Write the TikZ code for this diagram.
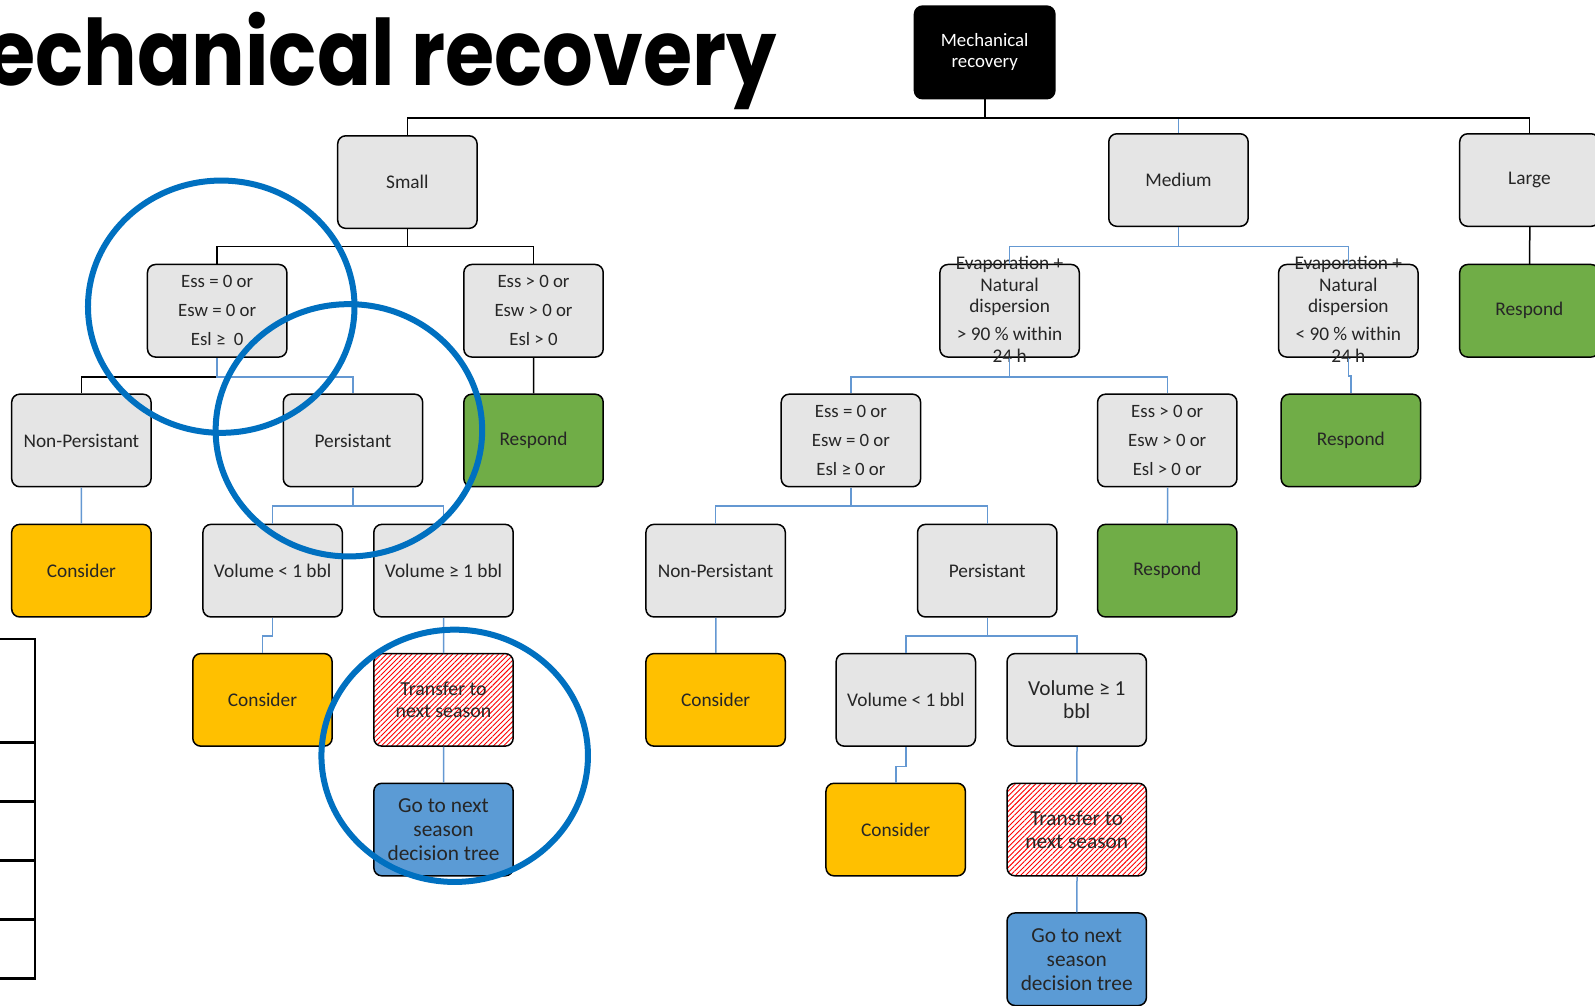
\documentclass[tikz,border=0pt]{standalone}
\usepackage{fontspec}
\setmainfont{Carlito}
\newfontfamily\titlefont{Poppins}[FakeStretch=0.87]
\usetikzlibrary{patterns.meta}
\definecolor{boxgrey}{RGB}{229,229,229}
\definecolor{respgreen}{RGB}{112,173,71}
\definecolor{consyellow}{RGB}{255,192,0}
\definecolor{nextblue}{RGB}{91,155,213}
\definecolor{linkblue}{RGB}{100,152,210}
\definecolor{ringblue}{RGB}{0,112,192}
\definecolor{ink}{RGB}{38,38,38}
\tikzset{
  box/.style={draw=black, line width=1.5pt, rounded corners=8pt,
    minimum width=137pt, minimum height=91pt, inner sep=1pt,
    align=center, text=ink, font=\fontsize{19}{22}\selectfont},
  greybox/.style={box, fill=boxgrey},
  cond/.style={greybox, font=\fontsize{18.5}{28.5}\selectfont},
  respond/.style={box, fill=respgreen},
  consider/.style={box, fill=consyellow},
  nextseason/.style={box, fill=nextblue, font=\fontsize{21}{23.5}\selectfont},
  transfer/.style={box, pattern={Lines[angle=45,distance=3.6pt,line width=0.9pt]},
    pattern color=red, font=\fontsize{19.5}{21}\selectfont},
  rootbox/.style={box, fill=black, text=white, minimum width=138pt,
    font=\fontsize{18.5}{20.5}\selectfont},
  plain/.style={inner sep=0pt, align=center, text=ink},
  blk/.style={draw=black, line width=1.5pt},
  blu/.style={draw=linkblue, line width=1.5pt},
  ring/.style={draw=ringblue, line width=6pt}
}
\begin{document}
\begin{tikzpicture}[x=1pt, y=-1pt, scale=1.0172, transform shape]
\clip (0,0) rectangle (1568,988);
\fill[white] (0,0) rectangle (1568,988);

% heading
\node[font=\titlefont\bfseries\fontsize{90}{90}\selectfont, anchor=base east,
  inner sep=0pt] (title) at (764,84) {Mechanical recovery};

% table edge on the left
\draw[line width=2.5pt] (0,628) -- (34.5,628) -- (34.5,962) -- (0,962);
\foreach \yy in {730,788,846,904} \draw[line width=2.5pt] (0,\yy) -- (34.5,\yy);

% root and size classes
\node[rootbox] (root) at (968,51.5) {Mechanical\\recovery};
\node[greybox] (small) at (400.5,179) {Small};
\node[greybox] (medium) at (1158.5,177) {Medium};
\node[greybox] (large) at (1503.5,177) {Large};

% small spill branch
\node[cond] (s1) at (213.5,305.5) {Ess = 0 or\\Esw = 0 or\\Esl ≥ \ 0};
\node[cond] (s2) at (524.5,305.5) {Ess > 0 or\\Esw > 0 or\\Esl > 0};
\node[respond] (sresp) at (524.5,433) {Respond};
\node[greybox] (snp) at (80,433) {Non-Persistant};
\node[greybox] (sp) at (347,433) {Persistant};
\node[consider] (scons1) at (80,561) {Consider};
\node[greybox] (svol1) at (268,561) {Volume < 1 bbl};
\node[greybox] (svol2) at (436,561) {Volume ≥ 1 bbl};
\node[consider] (scons2) at (258,688) {Consider};
\node[transfer] (strans) at (436,688) {Transfer to\\next season};
\node[nextseason] (snext) at (436,815.5) {Go to next\\season\\decision tree};

% medium spill branch
\node[greybox] (ev1) at (992.5,305.5) {};
\node[plain, font=\fontsize{19}{21}\selectfont] (ev1t) at (992.5,304)
  {Evaporation +\\Natural\\dispersion\\[7pt]> 90 \% within\\24 h};
\node[greybox] (ev2) at (1325.5,305.5) {};
\node[plain, font=\fontsize{19}{21}\selectfont] (ev2t) at (1325.5,304)
  {Evaporation +\\Natural\\dispersion\\[7pt]< 90 \% within\\24 h};
\node[respond] (mresp1) at (1328,433) {Respond};
\node[cond] (m1) at (836.5,433) {Ess = 0 or\\Esw = 0 or\\Esl ≥ 0 or};
\node[cond] (m2) at (1147.5,433) {Ess > 0 or\\Esw > 0 or\\Esl > 0 or};
\node[respond] (mresp2) at (1147.5,561) {Respond};
\node[greybox] (mnp) at (703.5,561) {Non-Persistant};
\node[greybox] (mp) at (970.5,561) {Persistant};
\node[consider] (mcons1) at (703.5,688) {Consider};
\node[greybox] (mvol1) at (890.5,688) {Volume < 1 bbl};
\node[greybox, font=\fontsize{21}{23}\selectfont] (mvol2) at (1058.5,688) {Volume ≥ 1\\bbl};
\node[consider] (mcons2) at (880.5,815.5) {Consider};
\node[transfer, font=\fontsize{21}{23}\selectfont] (mtrans) at (1058.5,815.5) {Transfer to\\next season};
\node[nextseason] (mnext) at (1058.5,943) {Go to next\\season\\decision tree};

% large spill branch
\node[respond] (lresp) at (1503.5,305.5) {Respond};

% connectors
\draw[blu] (root.south) -- ++(0,18) -| (medium.north);
\draw[blk] (root.south) -- ++(0,18) -| (small.north);
\draw[blk] (root.south) -- ++(0,18) -| (large.north);
\draw[blk] (large) -- (lresp);

\draw[blk] (small.south) -- ++(0,17) -| (s1.north);
\draw[blk] (small.south) -- ++(0,17) -| (s2.north);
\draw[blk] (s2) -- (sresp);
\draw[blk] (s1.south) -- ++(0,19) -| (snp.north);
\draw[blu] (s1.south) -- ++(0,19) -| (sp.north);
\draw[blu] (snp) -- (scons1);
\draw[blu] (sp.south) -- ++(0,18) -| (svol1.north);
\draw[blu] (sp.south) -- ++(0,18) -| (svol2.north);
\draw[blu] (svol1.south) -- ++(0,18) -| (scons2.north);
\draw[blu] (svol2) -- (strans);
\draw[blu] (strans) -- (snext);

\draw[blu] (medium.south) -- ++(0,19) -| (ev1.north);
\draw[blu] (medium.south) -- ++(0,19) -| (ev2.north);
\draw[blu] (ev2.south) -- ++(0,18) -| (mresp1.north);
\draw[blu] (ev1.south) -- ++(0,19) -| (m1.north);
\draw[blu] (ev1.south) -- ++(0,19) -| (m2.north);
\draw[blu] (m2) -- (mresp2);
\draw[blu] (m1.south) -- ++(0,18) -| (mnp.north);
\draw[blu] (m1.south) -- ++(0,18) -| (mp.north);
\draw[blu] (mnp) -- (mcons1);
\draw[blu] (mp.south) -- ++(0,18) -| (mvol1.north);
\draw[blu] (mp.south) -- ++(0,18) -| (mvol2.north);
\draw[blu] (mvol1.south) -- ++(0,19) -| (mcons2.north);
\draw[blu] (mvol2) -- (mtrans);
\draw[blu] (mtrans) -- (mnext);

% highlight rings
\draw[ring] (217.5,301.5) ellipse [x radius=131, y radius=124];
\draw[ring] (343,423) ellipse [x radius=131, y radius=124];
\draw[ring] (447,743) ellipse [x radius=131, y radius=124];
\end{tikzpicture}
\end{document}
